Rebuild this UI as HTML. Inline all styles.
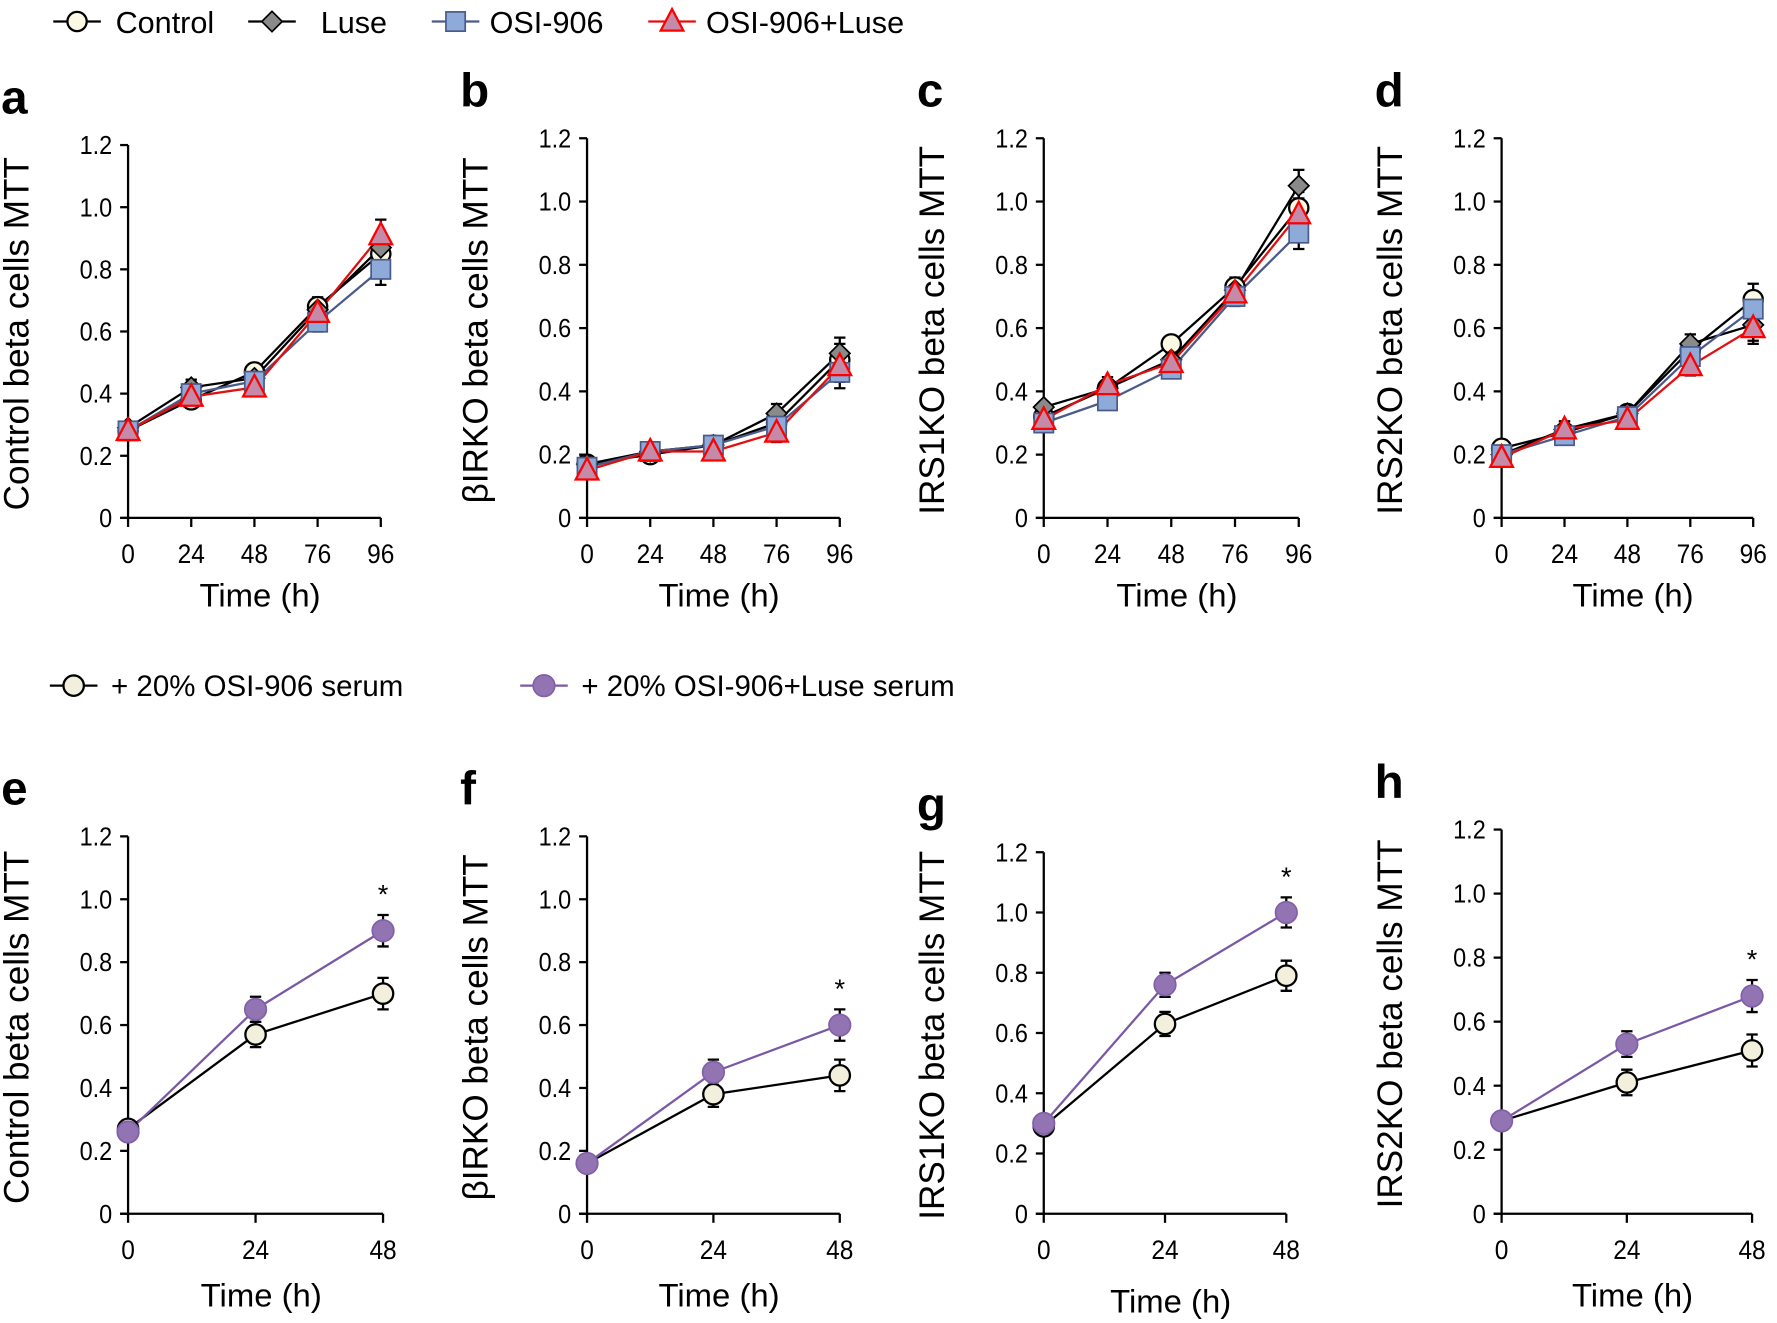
<!DOCTYPE html>
<html><head><meta charset="utf-8"><style>
html,body{margin:0;padding:0;background:#fff;}
svg{display:block;font-family:"Liberation Sans",sans-serif;}
</style></head><body>
<svg id="fig" width="1777" height="1323" viewBox="0 0 1568 1167.4">
<g id="legend-top"></g>
<g id="legend-bottom"></g>
</svg>
<script>
// Top panels: time points and series values
const topTimes = ["0","24","48","76","96"];
const bottomTimes = ["0","24","48"];
const yTicks = ["0","0.2","0.4","0.6","0.8","1.0","1.2"];
const aControl = [0.28,0.38,0.47,0.68,0.85];
const aLuse = [0.29,0.42,0.45,0.67,0.87];
const aOSI = [0.28,0.40,0.44,0.63,0.80];
const aOSILuse = [0.28,0.39,0.42,0.66,0.91];
const bControl = [0.17,0.20,0.23,0.30,0.50];
const bLuse = [0.17,0.21,0.23,0.33,0.52];
const bOSI = [0.16,0.21,0.23,0.29,0.46];
const bOSILuse = [0.15,0.21,0.21,0.27,0.48];
const cControl = [0.32,0.41,0.55,0.73,0.98];
const cLuse = [0.35,0.41,0.50,0.72,1.05];
const cOSI = [0.30,0.37,0.47,0.70,0.90];
const cOSILuse = [0.31,0.42,0.49,0.71,0.96];
const dControl = [0.22,0.27,0.33,0.53,0.69];
const dLuse = [0.20,0.28,0.33,0.55,0.61];
const dOSI = [0.20,0.26,0.32,0.51,0.66];
const dOSILuse = [0.19,0.28,0.31,0.48,0.60];
const eOSISerum = [0.27,0.57,0.70];
const eLuseSerum = [0.26,0.65,0.90];
const fOSISerum = [0.16,0.38,0.44];
const fLuseSerum = [0.16,0.45,0.60];
const gOSISerum = [0.29,0.63,0.79];
const gLuseSerum = [0.30,0.76,1.00];
const hOSISerum = [0.29,0.41,0.51];
const hLuseSerum = [0.29,0.53,0.68];
const errTop = [0.015,0.025,0.02,0.03,0.05];
const errBottom = [0.01,0.04,0.05];

const NS="http://www.w3.org/2000/svg";
const svg=document.getElementById('fig');
function mk(tag,attrs,parent){const e=document.createElementNS(NS,tag);for(const k in attrs)e.setAttribute(k,attrs[k]);(parent||svg).appendChild(e);return e;}

function marker(g,type,x,y){
  let m;
  if(type==='circle'){m=mk('circle',{cx:x,cy:y,r:8.5,fill:'#fbf9e4',stroke:'#000','stroke-width':2},g);}
  else if(type==='diamond'){m=mk('polygon',{points:`${x},${y-9} ${x+9},${y} ${x},${y+9} ${x-9},${y}`,fill:'#8a8a8a',stroke:'#000','stroke-width':1.5},g);}
  else if(type==='square'){m=mk('rect',{x:x-8.5,y:y-8.5,width:17,height:17,fill:'#8eaad8',stroke:'#4a5a8a','stroke-width':1.5},g);}
  else if(type==='triangle'){m=mk('polygon',{points:`${x},${y-11} ${x+10},${y+8} ${x-10},${y+8}`,fill:'#c48aa8',stroke:'#f00','stroke-width':2},g);}
  else if(type==='bcircle'){m=mk('circle',{cx:x,cy:y,r:9,fill:'#f2f0dc',stroke:'#000','stroke-width':2},g);}
  else if(type==='pcircle'){m=mk('circle',{cx:x,cy:y,r:9.5,fill:'#9274b2',stroke:'#8060a8','stroke-width':1.5},g);}
  return m;
}

function panel(p){
  const g=mk('g',{});
  
  
  const n=p.cats.length;
  const xs=i=>p.x0+(p.x1-p.x0)*i/(n-1);
  const ys=v=>p.y0+(p.y1-p.y0)*v/1.2;
  const ax=mk('path',{d:`M${p.x0},${p.y1} V${p.y0} M${p.x0-7},${p.y0} H${p.x1}`,stroke:'#000','stroke-width':2,fill:'none'},g);
  
  
  yTicks.forEach((t,i)=>{
    const y=ys(parseFloat(t));
    mk('line',{x1:p.x0-7,x2:p.x0,y1:y,y2:y,stroke:'#000','stroke-width':2},g);
    const tx=mk('text',{x:p.x0-14,y:y+8,'text-anchor':'end','font-size':23,transform:`translate(${p.x0-14},0) scale(0.9,1) translate(${-(p.x0-14)},0)`},g);
    tx.textContent=t;
    
    
  });
  p.cats.forEach((c,i)=>{
    const x=xs(i);
    mk('line',{x1:x,x2:x,y1:p.y0,y2:p.y0+8,stroke:'#000','stroke-width':2},g);
    const tx=mk('text',{x:x,y:p.y0+40,'text-anchor':'middle','font-size':24,transform:`translate(${x},0) scale(0.9,1) translate(${-x},0)`},g);
    tx.textContent=c;
    
    
  });
  const xc=(p.x0+p.x1)/2+5;
  const xt=mk('text',{x:xc,y:p.y0+p.xtOff,'text-anchor':'middle','font-size':29},g);
  xt.textContent='Time (h)';
  
  
  const yt=mk('text',{x:0,y:0,'text-anchor':'middle','font-size':31,transform:`translate(${p.x0-88},${(p.y0+p.y1)/2+2}) rotate(-90)`},g);
  yt.textContent=p.ylabel;
  
  
  const lt=mk('text',{x:p.x0-112,y:p.y1-28,'font-size':42,'font-weight':'bold'},g);
  lt.textContent=p.letter;
  
  
  p.series.forEach(s=>{
    s.vals.forEach((v,i)=>{
      const e=p.err[i];const x=xs(i);
      const eb=mk('path',{d:`M${x},${ys(v-e)} V${ys(v+e)} M${x-5},${ys(v-e)} H${x+5} M${x-5},${ys(v+e)} H${x+5}`,stroke:'#000','stroke-width':2,fill:'none'},g);
      
      
    });
  });
  p.series.forEach(s=>{
    const pts=s.vals.map((v,i)=>xs(i)+','+ys(v)).join(' ');
    const l=mk('polyline',{points:pts,fill:'none',stroke:s.color,'stroke-width':2},g);
    
    
  });
  p.series.forEach(s=>{
    s.vals.forEach((v,i)=>{
      const m=marker(g,s.marker,xs(i),ys(v));
      
      
    });
  });
  if(p.star){
    const s=p.series[1];const i=s.vals.length-1;
    const st=mk('text',{x:xs(i),y:ys(s.vals[i]+p.err[i])-10,'text-anchor':'middle','font-size':24},g);
    st.textContent='*';
    
    
  }
}
function topSeries(c,l,o,ol){return [
  {name:'control',vals:c,color:'#000',marker:'circle'},
  {name:'luse',vals:l,color:'#000',marker:'diamond'},
  {name:'osi-906',vals:o,color:'#4a5a8a',marker:'square'},
  {name:'osi-906-luse',vals:ol,color:'#e01010',marker:'triangle'}];}
function botSeries(a,b){return [
  {name:'osi-serum',vals:a,color:'#000',marker:'bcircle'},
  {name:'osi-luse-serum',vals:b,color:'#7a58a6',marker:'pcircle'}];}

panel({letter:'a',x0:113,x1:336,y0:457,y1:128,cats:topTimes,ylabel:'Control beta cells MTT',series:topSeries(aControl,aLuse,aOSI,aOSILuse),err:errTop,xtOff:78});
panel({letter:'b',x0:518,x1:741,y0:457,y1:122,cats:topTimes,ylabel:'βIRKO  beta cells MTT',series:topSeries(bControl,bLuse,bOSI,bOSILuse),err:errTop,xtOff:78});
panel({letter:'c',x0:921,x1:1146,y0:457,y1:122,cats:topTimes,ylabel:'IRS1KO  beta cells MTT',series:topSeries(cControl,cLuse,cOSI,cOSILuse),err:errTop,xtOff:78});
panel({letter:'d',x0:1325,x1:1547,y0:457,y1:122,cats:topTimes,ylabel:'IRS2KO  beta cells MTT',series:topSeries(dControl,dLuse,dOSI,dOSILuse),err:errTop,xtOff:78});
panel({letter:'e',x0:113,x1:338,y0:1071,y1:738,cats:bottomTimes,ylabel:'Control beta cells MTT',series:botSeries(eOSISerum,eLuseSerum),err:errBottom,xtOff:82,star:true});
panel({letter:'f',x0:518,x1:741,y0:1071,y1:738,cats:bottomTimes,ylabel:'βIRKO  beta cells MTT',series:botSeries(fOSISerum,fLuseSerum),err:errBottom,xtOff:82,star:true});
panel({letter:'g',x0:921,x1:1135,y0:1071,y1:752,cats:bottomTimes,ylabel:'IRS1KO  beta cells MTT',series:botSeries(gOSISerum,gLuseSerum),err:errBottom,xtOff:87,star:true});
panel({letter:'h',x0:1325,x1:1546,y0:1071,y1:732,cats:bottomTimes,ylabel:'IRS2KO  beta cells MTT',series:botSeries(hOSISerum,hLuseSerum),err:errBottom,xtOff:82,star:true});

const lt=document.getElementById('legend-top');
[[68,'circle','#000','Control',102],[240,'diamond','#000','Luse',283],[402,'square','#4a5a8a','OSI-906',432],[593,'triangle','#e01010','OSI-906+Luse',623]].forEach(([x,m,c,t,tx])=>{
  const g=mk('g',{},lt);
  
  
  mk('line',{x1:x-21,x2:x+21,y1:19,y2:19,stroke:c,'stroke-width':2},g);
  marker(g,m,x,19);
  const e=mk('text',{x:tx,y:29,'font-size':27},g);e.textContent=t;
});
const lb=document.getElementById('legend-bottom');
[[65,'bcircle','#000','+ 20% OSI-906 serum',98],[480,'pcircle','#7a58a6','+ 20% OSI-906+Luse serum',513]].forEach(([x,m,c,t,tx])=>{
  const g=mk('g',{},lb);
  
  
  mk('line',{x1:x-21,x2:x+21,y1:605,y2:605,stroke:c,'stroke-width':2},g);
  marker(g,m,x,605);
  const e=mk('text',{x:tx,y:614,'font-size':26},g);e.textContent=t;
});
</script>
</body></html>
